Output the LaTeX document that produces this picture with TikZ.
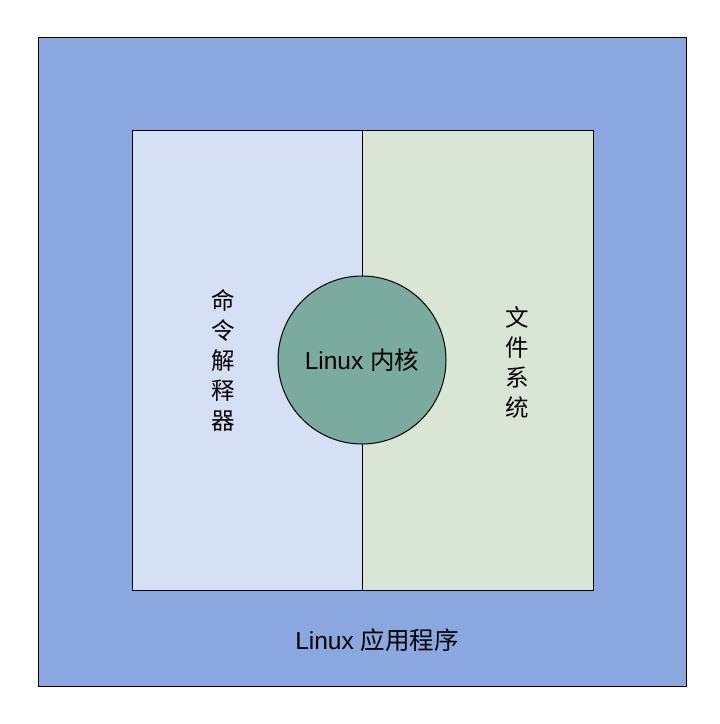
\documentclass[tikz,border=0pt]{standalone}
\usepackage{fontspec}
\setmainfont{Liberation Sans}
\newfontfamily\cjk{Noto Sans CJK SC}
\definecolor{outerc}{HTML}{8AA7DF}
\definecolor{leftc}{HTML}{D6E0F4}
\definecolor{rightc}{HTML}{DAE6D5}
\definecolor{corec}{HTML}{7BAA9E}
\begin{document}
\begin{tikzpicture}[x=1pt,y=-1pt,
  box/.style={draw=black,line width=1pt},
  lbl/.style={font=\fontsize{24.5}{28}\selectfont,inner sep=0pt},
  vlbl/.style={font=\fontsize{23.5}{30}\selectfont\cjk,inner sep=0pt,align=center}]
\useasboundingbox (0,0) rectangle (720,724);
\fill[white] (0,0) rectangle (720,724);
\draw[box,fill=outerc] (38,37) rectangle (686,686);
\node[lbl] (app) at (377,640) {Linux {\cjk 应用程序}};
\draw[box,fill=leftc] (132,130) rectangle (362,590);
\draw[box,fill=rightc] (362,130) rectangle (593,590);
\node[box,circle,fill=corec,minimum size=168pt,inner sep=0pt,lbl] (core) at (362,360) {Linux {\cjk 内核}};
\node[vlbl] (shell) at (223,360) {命\\令\\解\\释\\器};
\node[vlbl] (fs) at (517,362) {文\\件\\系\\统};
\end{tikzpicture}
\end{document}
